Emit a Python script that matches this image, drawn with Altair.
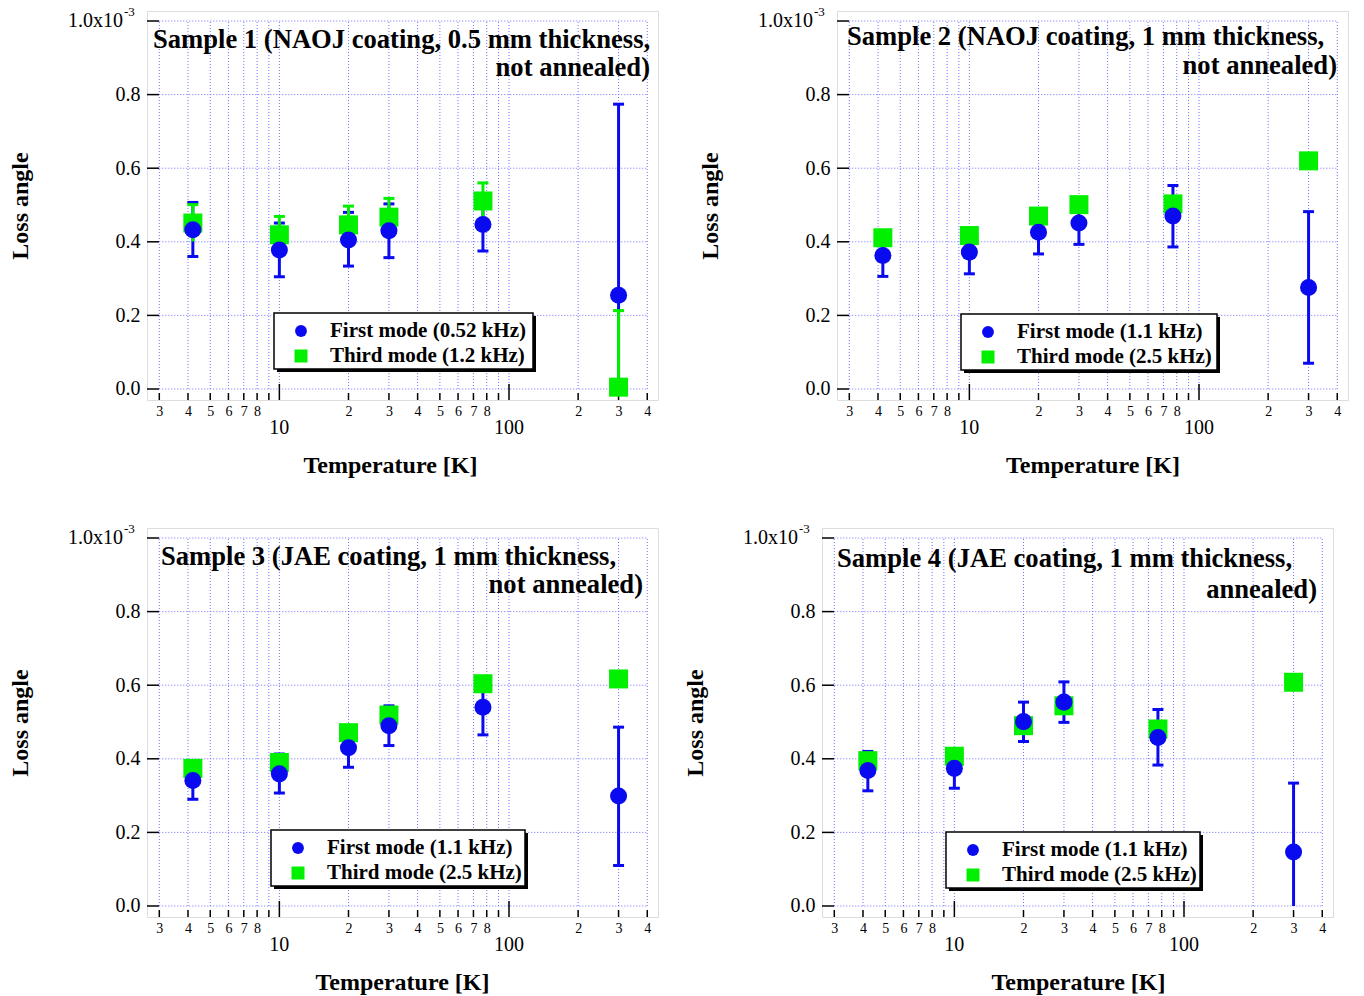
import altair as alt
import pandas as pd

# ---------------- data ----------------
temps = [4.2, 10, 20, 30, 77, 300]

title_line1 = [
    "Sample 1 (NAOJ coating, 0.5 mm thickness,",
    "Sample 2 (NAOJ coating, 1 mm thickness,",
    "Sample 3 (JAE coating, 1 mm thickness,",
    "Sample 4 (JAE coating, 1 mm thickness,",
]
title_line2 = ["not annealed)", "not annealed)", "not annealed)", "annealed)"]
first_names = ["First mode (0.52 kHz)", "First mode (1.1 kHz)", "First mode (1.1 kHz)", "First mode (1.1 kHz)"]
third_names = ["Third mode (1.2 kHz)", "Third mode (2.5 kHz)", "Third mode (2.5 kHz)", "Third mode (2.5 kHz)"]

# first mode (blue circles) with error bars
first_val = [
    [0.433, 0.378, 0.405, 0.430, 0.447, 0.255],
    [0.363, 0.372, 0.426, 0.451, 0.470, 0.276],
    [0.341, 0.359, 0.430, 0.490, 0.540, 0.299],
    [0.368, 0.374, 0.501, 0.554, 0.458, 0.147],
]
first_lo = [
    [0.360, 0.305, 0.334, 0.357, 0.375, 0.000],
    [0.306, 0.313, 0.367, 0.393, 0.386, 0.070],
    [0.290, 0.307, 0.377, 0.436, 0.465, 0.110],
    [0.313, 0.320, 0.447, 0.499, 0.383, 0.000],
]
first_hi = [
    [0.507, 0.451, 0.480, 0.503, 0.521, 0.774],
    [0.422, 0.431, 0.485, 0.510, 0.553, 0.482],
    [0.395, 0.413, 0.482, 0.544, 0.615, 0.486],
    [0.420, 0.427, 0.554, 0.609, 0.534, 0.334],
]
# third mode (green squares)
third_val = [
    [0.451, 0.419, 0.446, 0.467, 0.511, 0.005],
    [0.411, 0.417, 0.470, 0.501, 0.503, 0.620],
    [0.374, 0.390, 0.471, 0.519, 0.604, 0.617],
    [0.395, 0.407, 0.490, 0.544, 0.481, 0.608],
]
# error bars of third mode only visible for sample 1
third_lo_s1 = [0.401, 0.370, 0.397, 0.418, 0.462, 0.000]
third_hi_s1 = [0.501, 0.469, 0.497, 0.518, 0.560, 0.213]

x_minor_ticks = [3, 4, 5, 6, 7, 8, 9, 20, 30, 40, 50, 60, 70, 80, 90, 200, 300, 400]
x_major_ticks = [10, 100]
y_ticks = [0.0, 0.2, 0.4, 0.6, 0.8, 1.0]

# ---------------- layout / style ----------------
FONT = "Liberation Serif"
BLUE = "#0a0af0"
GREEN = "#00f000"
GRIDC = "#6f6fff"
W, H = 511, 389

title_pos = [(6, 37, 503, 65), (10, 34, 500, 63), (14, 37, 496, 65), (15, 39, 495, 70)]
legend_box = [(127, 302, 386, 358), (124, 303, 380, 359), (124, 302, 378, 358), (124, 304, 378, 360)]
xtitle_x = [243, 255.5, 255, 256]

xs = alt.Scale(type="log", domain=[2.652, 445.5], nice=False)
ys = alt.Scale(domain=[-0.0299, 1.0272], nice=False, zero=False)
one = pd.DataFrame({"k": [0]})


def panel(i):
    pts = pd.DataFrame({"T": temps, "v": first_val[i], "lo": first_lo[i], "hi": first_hi[i]})
    sq = pd.DataFrame({"T": temps, "v": third_val[i]})
    gx = pd.DataFrame({"g": x_minor_ticks + x_major_ticks})
    gy = pd.DataFrame({"g": y_ticks})

    xaxis = alt.Axis(
        values=x_minor_ticks,
        labelExpr="(datum.value==9||datum.value==90)?'':substring(toString(datum.value),0,1)",
        labelFontSize=14, labelPadding=4, labelFont=FONT, labelColor="black",
        labelOverlap=False, labelFlush=False, ticks=False, domain=False, grid=False,
        title="Temperature [K]", titleFont=FONT, titleFontSize=24, titleFontWeight="bold",
        titleColor="black", titleX=xtitle_x[i], titleY=65, titleBaseline="middle", titleAlign="center",
    )
    yaxis = alt.Axis(
        values=y_ticks,
        labelExpr="datum.value > 0.99 ? '' : format(datum.value, '.1f')",
        labelFontSize=20, labelPadding=7, labelFont=FONT, labelColor="black",
        labelOverlap=False, labelFlush=False, ticks=False, domain=False, grid=False,
        title="Loss angle", titleFont=FONT, titleFontSize=24, titleFontWeight="bold",
        titleColor="black", titleX=-127, titleY=H / 2, titleAngle=-90,
        titleBaseline="middle", titleAlign="center",
    )

    def X(f):
        return alt.X(f, type="quantitative", scale=xs, axis=xaxis)

    def Y(f):
        return alt.Y(f, type="quantitative", scale=ys, axis=yaxis)

    vgrid = alt.Chart(gx).mark_rule(color=GRIDC, strokeDash=[1, 2], strokeWidth=1).encode(
        x=X("g"), y=alt.YDatum(0.0, scale=ys, axis=yaxis), y2=alt.Y2Datum(1.0),
    )
    hgrid = alt.Chart(gy).mark_rule(color=GRIDC, strokeDash=[1, 2], strokeWidth=1).encode(
        y=Y("g"), x=alt.XDatum(3, scale=xs, axis=xaxis), x2=alt.X2Datum(400),
    )
    ytick = alt.Chart(gy).mark_rule(color="black", strokeWidth=1.5).encode(
        y=Y("g"), x=alt.value(0), x2=alt.value(12)
    )
    xtick_minor = alt.Chart(pd.DataFrame({"g": x_minor_ticks})).mark_rule(color="black", strokeWidth=1.5).encode(
        x=X("g"), y=alt.value(H), y2=alt.value(H - 7)
    )
    xtick_major = alt.Chart(pd.DataFrame({"g": x_major_ticks})).mark_rule(color="black", strokeWidth=1.5).encode(
        x=X("g"), y=alt.value(H), y2=alt.value(H - 16)
    )
    major_lab = alt.Chart(pd.DataFrame({"g": x_major_ticks})).mark_text(
        font=FONT, fontSize=20, baseline="middle", align="center", color="black"
    ).encode(x=X("g"), y=alt.value(H + 28), text=alt.Text("g:Q", format="d"))
    top_lab = alt.Chart(one).mark_text(font=FONT, fontSize=20, baseline="middle", align="right", color="black").encode(
        x=alt.value(-24), y=alt.YDatum(1.0, scale=ys, axis=yaxis), text=alt.value("1.0x10")
    )
    top_exp = alt.Chart(one).mark_text(font=FONT, fontSize=13, baseline="middle", align="left", dy=-9, color="black").encode(
        x=alt.value(-23), y=alt.YDatum(1.0, scale=ys, axis=yaxis), text=alt.value("-3")
    )

    layers = [vgrid, hgrid, ytick, xtick_minor, xtick_major, major_lab, top_lab, top_exp]

    # first mode error bars
    layers.append(alt.Chart(pts).mark_rule(color=BLUE, strokeWidth=3).encode(
        x=X("T"), y=Y("lo"), y2="hi:Q"))
    layers.append(alt.Chart(pts).mark_tick(orient="horizontal", size=11, thickness=3, color=BLUE, opacity=1).encode(
        x=X("T"), y=Y("hi")))
    layers.append(alt.Chart(pts).transform_filter("datum.lo > 0.01").mark_tick(
        orient="horizontal", size=11, thickness=3, color=BLUE, opacity=1).encode(
        x=X("T"), y=Y("lo")))
    if i == 0:
        ge = pd.DataFrame({"T": temps, "lo": third_lo_s1, "hi": third_hi_s1})
        layers.append(alt.Chart(ge).mark_rule(color=GREEN, strokeWidth=3).encode(
            x=X("T"), y=Y("lo"), y2="hi:Q"))
        layers.append(alt.Chart(ge).mark_tick(orient="horizontal", size=11, thickness=3, color=GREEN, opacity=1).encode(
            x=X("T"), y=Y("hi")))
    layers.append(alt.Chart(sq).mark_point(shape="square", filled=True, size=361, color=GREEN, opacity=1).encode(
        x=X("T"), y=Y("v")))
    layers.append(alt.Chart(pts).mark_point(shape="circle", filled=True, size=290, color=BLUE, opacity=1).encode(
        x=X("T"), y=Y("v")))

    # legend box
    lx, ty, rx, by = legend_box[i]
    layers.append(alt.Chart(one).mark_rect(color="black").encode(
        x=alt.value(lx + 3), x2=alt.value(rx + 3), y=alt.value(ty + 3), y2=alt.value(by + 3)))
    layers.append(alt.Chart(one).mark_rect(fill="white", stroke="black", strokeWidth=1.5).encode(
        x=alt.value(lx), x2=alt.value(rx), y=alt.value(ty), y2=alt.value(by)))
    layers.append(alt.Chart(one).mark_point(shape="circle", filled=True, size=140, color=BLUE, opacity=1).encode(
        x=alt.value(lx + 27), y=alt.value(ty + 18)))
    layers.append(alt.Chart(one).mark_point(shape="square", filled=True, size=169, color=GREEN, opacity=1).encode(
        x=alt.value(lx + 27), y=alt.value(ty + 43)))
    layers.append(alt.Chart(one).mark_text(font=FONT, fontSize=21, fontWeight="bold", align="left", baseline="middle", color="black").encode(
        x=alt.value(lx + 56), y=alt.value(ty + 18), text=alt.value(first_names[i])))
    layers.append(alt.Chart(one).mark_text(font=FONT, fontSize=21, fontWeight="bold", align="left", baseline="middle", color="black").encode(
        x=alt.value(lx + 56), y=alt.value(ty + 43), text=alt.value(third_names[i])))

    # in-plot title
    t1x, t1y, t2x, t2y = title_pos[i]
    layers.append(alt.Chart(one).mark_text(font=FONT, fontSize=26.6, fontWeight="bold", align="left", baseline="alphabetic", color="black").encode(
        x=alt.value(t1x), y=alt.value(t1y), text=alt.value(title_line1[i])))
    layers.append(alt.Chart(one).mark_text(font=FONT, fontSize=26.6, fontWeight="bold", align="right", baseline="alphabetic", color="black").encode(
        x=alt.value(t2x), y=alt.value(t2y), text=alt.value(title_line2[i])))

    return alt.layer(*layers).properties(width=W, height=H)


row1 = alt.hconcat(panel(0), panel(1), spacing=38)
row2 = alt.hconcat(panel(2), panel(3), spacing=23)
chart = (
    alt.vconcat(row1, row2, spacing=44)
    .properties(padding={"left": 7, "top": 5, "right": 5, "bottom": 0}, background="white")
    .configure_view(stroke="black", strokeWidth=2)
    .configure(font=FONT)
)
chart.save("out.html", embed_options={"renderer": "svg", "actions": False})
